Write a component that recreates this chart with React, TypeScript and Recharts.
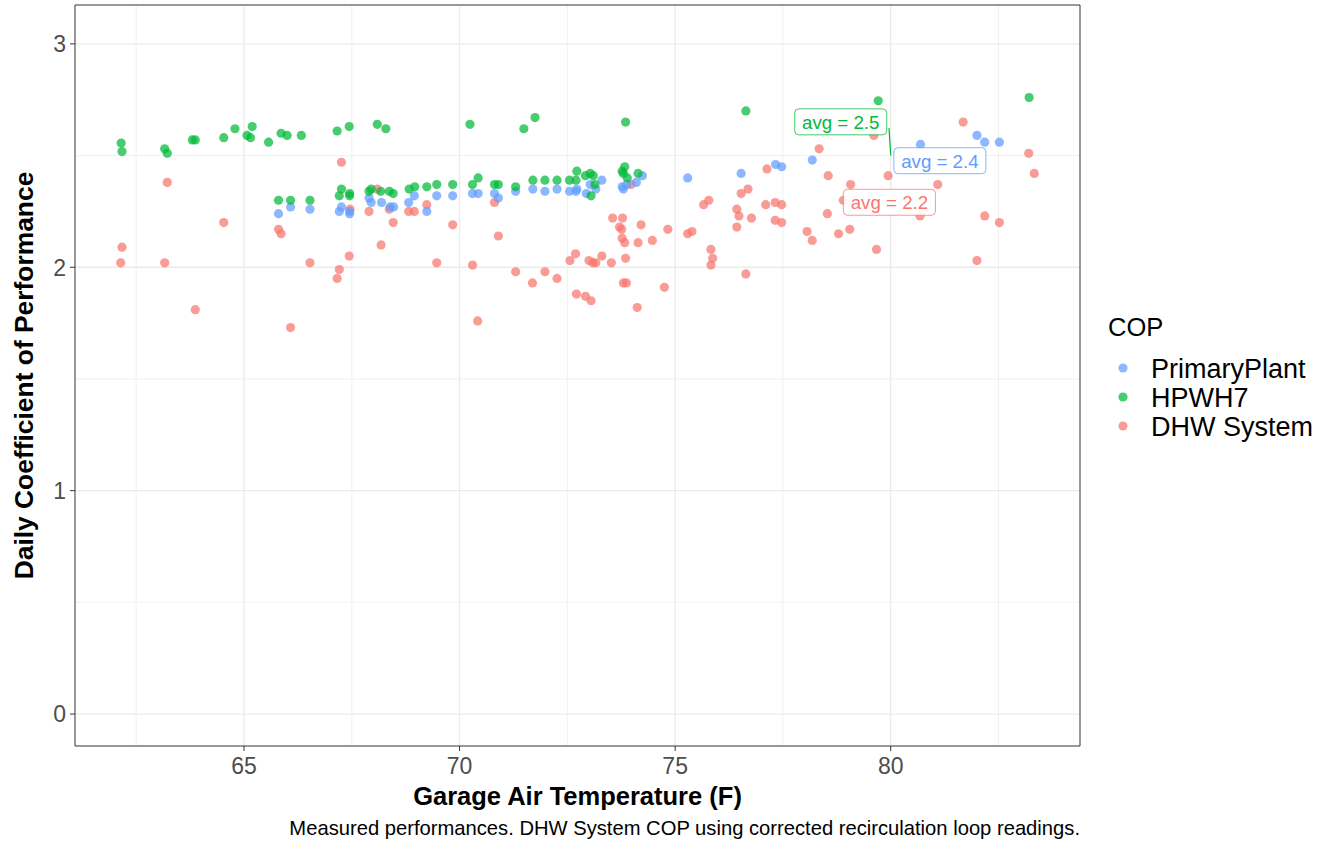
import React from 'react';
import {
  ScatterChart, Scatter, XAxis, YAxis, CartesianGrid, ReferenceArea, ReferenceLine,
} from 'recharts';

const xTicks = [65, 70, 75, 80];
const yTicks = [0, 1, 2, 3];
const xMinor = [62.5, 67.5, 72.5, 77.5, 82.5];
const yMinor = [0.5, 1.5, 2.5];
const xDomain = [61.08, 84.39];
const yDomain = [-0.143, 3.174];

const seriesNames = ['PrimaryPlant', 'HPWH7', 'DHW System'];
const seriesColors = ['#619CFF', '#00BA38', '#F8766D'];

const plantX = [65.8, 66.08, 66.53, 67.21, 67.26, 67.45, 67.45, 67.9, 67.95, 68.19, 68.39, 68.47, 68.82, 68.95, 69.24, 69.47, 69.84, 70.3, 70.43, 70.81, 70.9, 71.3, 71.7, 71.98, 72.26, 72.55, 72.7, 72.72, 72.94, 73.03, 73.16, 73.3, 73.77, 73.8, 73.88, 74.1, 74.24, 75.29, 76.53, 77.33, 77.47, 78.18, 80.69, 82.0, 82.18, 82.52];
const plantY = [2.24, 2.27, 2.26, 2.25, 2.27, 2.25, 2.24, 2.31, 2.29, 2.29, 2.27, 2.27, 2.29, 2.32, 2.25, 2.32, 2.32, 2.33, 2.33, 2.33, 2.31, 2.34, 2.35, 2.34, 2.35, 2.34, 2.34, 2.35, 2.33, 2.37, 2.35, 2.39, 2.36, 2.35, 2.37, 2.38, 2.41, 2.40, 2.42, 2.46, 2.45, 2.48, 2.55, 2.59, 2.56, 2.56];

const hpwhX = [62.15, 62.17, 63.16, 63.22, 63.8, 63.87, 64.53, 64.79, 65.07, 65.15, 65.19, 65.57, 65.86, 66.0, 66.33, 67.16, 67.44, 68.09, 68.29, 70.24, 71.49, 71.75, 73.85, 76.64, 79.71, 83.21,
  65.8, 66.08, 66.53, 67.26, 67.21, 67.45, 67.45, 67.9, 67.95, 68.17, 68.37, 68.46, 68.83, 68.96, 69.24, 69.47, 69.84, 70.3, 70.43, 70.81, 70.9, 71.3, 71.7, 71.98, 72.26, 72.55, 72.7, 72.72, 72.92, 73.03, 73.1, 73.14, 73.05, 73.77, 73.83, 73.8, 73.89, 74.14];
const hpwhY = [2.556, 2.518, 2.53, 2.51, 2.57, 2.57, 2.58, 2.62, 2.59, 2.58, 2.63, 2.56, 2.60, 2.59, 2.59, 2.61, 2.63, 2.64, 2.62, 2.64, 2.62, 2.67, 2.65, 2.70, 2.745, 2.76,
  2.30, 2.30, 2.30, 2.35, 2.32, 2.33, 2.32, 2.34, 2.35, 2.34, 2.34, 2.33, 2.35, 2.36, 2.36, 2.37, 2.37, 2.37, 2.40, 2.37, 2.37, 2.36, 2.39, 2.39, 2.39, 2.39, 2.39, 2.43, 2.41, 2.42, 2.41, 2.37, 2.32, 2.43, 2.45, 2.42, 2.40, 2.42];

const dhwX = [62.17, 62.14, 63.22, 63.16, 64.53, 63.87, 65.8, 65.86, 66.08, 67.26, 66.53, 67.21, 67.16, 67.44, 67.46, 67.9, 68.09, 68.37, 68.46, 68.18, 68.82, 68.95, 69.24, 69.47, 69.84, 70.3, 70.42, 70.81, 70.9, 71.3, 71.69, 71.98, 72.26, 72.56, 72.69, 72.71, 72.92, 73.0, 73.05, 73.09, 73.16, 73.3, 73.52, 73.55, 73.71, 73.76, 73.78, 73.77, 73.83, 73.85, 73.8, 73.87, 73.98, 74.14, 74.12, 74.21, 74.47, 74.75, 74.83, 75.29, 75.39, 75.66, 75.78, 75.83, 75.87, 75.83, 76.43, 76.48, 76.43, 76.53, 76.69, 76.77, 76.64, 77.13, 77.1, 77.32, 77.47, 77.32, 77.47, 78.06, 78.18, 78.34, 78.55, 78.53, 78.79, 79.05, 79.07, 78.9, 79.61, 79.94, 81.09, 80.68, 79.67, 81.68, 82.18, 82.52, 82.0, 83.2, 83.33];
const dhwY = [2.09, 2.02, 2.38, 2.02, 2.20, 1.81, 2.17, 2.15, 1.73, 2.47, 2.02, 1.99, 1.95, 2.05, 2.26, 2.25, 2.35, 2.26, 2.20, 2.10, 2.25, 2.25, 2.28, 2.02, 2.19, 2.01, 1.76, 2.29, 2.14, 1.98, 1.93, 1.98, 1.95, 2.03, 2.06, 1.88, 1.87, 2.03, 1.85, 2.02, 2.02, 2.05, 2.02, 2.22, 2.18, 2.17, 2.22, 2.13, 2.11, 2.04, 1.93, 1.93, 2.37, 2.11, 1.82, 2.19, 2.12, 1.91, 2.17, 2.15, 2.16, 2.28, 2.30, 2.08, 2.04, 2.01, 2.26, 2.23, 2.18, 2.33, 2.35, 2.22, 1.97, 2.44, 2.28, 2.29, 2.28, 2.21, 2.20, 2.16, 2.12, 2.53, 2.41, 2.24, 2.15, 2.17, 2.37, 2.30, 2.59, 2.41, 2.37, 2.23, 2.08, 2.65, 2.23, 2.20, 2.03, 2.51, 2.42];

// avg labels (ggrepel style)
const avgText = ['avg = 2.4', 'avg = 2.5', 'avg = 2.2'];
const avgLabelX = [81.14, 78.84, 79.97];
const avgLabelY = [2.477, 2.651, 2.291];
const greenSegX = [79.96, 80.0];
const greenSegY = [2.623, 2.5];

const zip = (xs: number[], ys: number[]) => xs.map((x, i) => ({ x, y: ys[i] }));
const plantData = zip(plantX, plantY);
const hpwhData = zip(hpwhX, hpwhY);
const dhwData = zip(dhwX, dhwY);

const W = 1329;
const H = 841;
const FONT = '"Liberation Sans", Arial, sans-serif';

const dot = (color: string) => (p: any) => (
  <circle cx={p.cx} cy={p.cy} r={4.6} fill={color} fillOpacity={0.72} stroke="none" />
);

const labelShape = (i: number) => (p: any) => {
  const w = 92;
  const h = 26;
  return (
    <g>
      <rect x={p.cx - w / 2} y={p.cy - h / 2} width={w} height={h} rx={4} ry={4} fill="#fff" fillOpacity={0.9}
        stroke={seriesColors[i]} strokeOpacity={0.75} strokeWidth={1} />
      <text x={p.cx} y={p.cy + 6.8} textAnchor="middle" fontFamily={FONT} fontSize={18.7} fill={seriesColors[i]}>
        {avgText[i]}
      </text>
    </g>
  );
};

const scaleOf = (axis: any) => (v: number) => {
  const s = axis?.scale;
  if (typeof s === 'function') return s(v);
  if (s && typeof s.map === 'function') return s.map(v);
  return 0;
};

const XTick = (p: any) => (
  <text x={p.x} y={p.y} dy="0.72em" textAnchor="middle" fontFamily={FONT} fontSize={23} fill="#4d4d4d">
    {p.payload.value}
  </text>
);
const YTick = (p: any) => (
  <text x={p.x} y={p.y} dy="0.36em" textAnchor="end" fontFamily={FONT} fontSize={23} fill="#4d4d4d">
    {p.payload.value}
  </text>
);

const XLabel = (p: any) => {
  const vb = p.viewBox || { x: 75, y: 746, width: 1005, height: 95 };
  return (
    <g>
      <text x={vb.x + vb.width / 2} y={vb.y + 59} textAnchor="middle" fontFamily={FONT} fontWeight="bold" fontSize={25.5} fill="#000">
        Garage Air Temperature (F)
      </text>
      <text x={vb.x + vb.width} y={vb.y + 89} textAnchor="end" fontFamily={FONT} fontSize={20.2} fill="#000">
        Measured performances. DHW System COP using corrected recirculation loop readings.
      </text>
    </g>
  );
};

const YLabel = (p: any) => {
  const vb = p.viewBox || { x: 0, y: 5, width: 75, height: 741 };
  const cx = 33;
  const cy = vb.y + vb.height / 2;
  return (
    <text x={cx} y={cy} transform={`rotate(-90, ${cx}, ${cy})`} textAnchor="middle" fontFamily={FONT} fontWeight="bold" fontSize={26.4} fill="#000">
      Daily Coefficient of Performance
    </text>
  );
};

const LegendBox = () => (
  <svg width={229} height={150} style={{ display: 'block' }}>
    <text x={8} y={36} fontFamily={FONT} fontSize={25.5} fill="#000">COP</text>
    {seriesNames.map((n, i) => (
      <g key={n}>
        <circle cx={23} cy={68 + i * 29} r={4.6} fill={seriesColors[i]} fillOpacity={0.72} />
        <text x={51} y={78 + i * 29} fontFamily={FONT} fontSize={27} fill="#000">{n}</text>
      </g>
    ))}
  </svg>
);

export default function App() {
  return (
    <div style={{ position: 'absolute', left: 0, top: 0, width: W, height: H, background: '#fff' }}>
      <ScatterChart width={W} height={H} margin={{ top: 5, right: 249, bottom: 0, left: 0 }}>
        <CartesianGrid
          stroke="#ebebeb"
          strokeWidth={0.7}
          verticalCoordinatesGenerator={({ xAxis }: any) => xMinor.map(scaleOf(xAxis))}
          horizontalCoordinatesGenerator={({ yAxis }: any) => yMinor.map(scaleOf(yAxis))}
        />
        <CartesianGrid
          stroke="#ebebeb"
          strokeWidth={1.3}
          verticalCoordinatesGenerator={({ xAxis }: any) => xTicks.map(scaleOf(xAxis))}
          horizontalCoordinatesGenerator={({ yAxis }: any) => yTicks.map(scaleOf(yAxis))}
        />
        <XAxis
          type="number"
          dataKey="x"
          domain={xDomain}
          ticks={xTicks}
          allowDataOverflow
          height={95}
          axisLine={false}
          tickSize={5}
          tickMargin={6}
          tickLine={{ stroke: '#333333' }}
          tick={<XTick />}
          label={<XLabel />}
        />
        <YAxis
          type="number"
          dataKey="y"
          domain={yDomain}
          ticks={yTicks}
          allowDataOverflow
          width={75}
          axisLine={false}
          tickSize={5}
          tickMargin={4}
          tickLine={{ stroke: '#333333' }}
          tick={<YTick />}
          label={<YLabel />}
        />
        <ReferenceArea x1={xDomain[0]} x2={xDomain[1]} y1={yDomain[0]} y2={yDomain[1]} fill="none" stroke="#333333" strokeWidth={1} />
        <Scatter name="DHW System" data={dhwData} shape={dot(seriesColors[2])} isAnimationActive={false} />
        <Scatter name="PrimaryPlant" data={plantData} shape={dot(seriesColors[0])} isAnimationActive={false} />
        <Scatter name="HPWH7" data={hpwhData} shape={dot(seriesColors[1])} isAnimationActive={false} />
        <ReferenceLine
          segment={[{ x: greenSegX[0], y: greenSegY[0] }, { x: greenSegX[1], y: greenSegY[1] }]}
          stroke={seriesColors[1]}
          strokeWidth={1.2}
        />
        {avgText.map((t, i) => (
          <Scatter key={t} data={[{ x: avgLabelX[i], y: avgLabelY[i] }]} shape={labelShape(i)} isAnimationActive={false} legendType="none" />
        ))}
      </ScatterChart>
      <div style={{ position: 'absolute', left: 1100, top: 300 }}>
        <LegendBox />
      </div>
    </div>
  );
}
